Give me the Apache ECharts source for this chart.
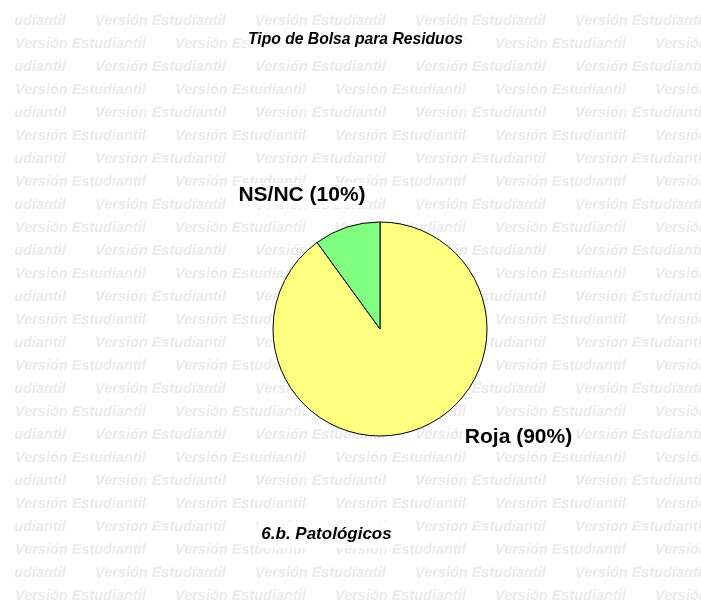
<!DOCTYPE html>
<html>
<head>
<meta charset="utf-8">
<script src="https://cdn.jsdelivr.net/npm/echarts@6/dist/echarts.min.js"></script>
<style>
  html, body { margin: 0; padding: 0; background: #ffffff; }
  #chart { width: 701px; height: 604px; }
</style>
</head>
<body>
<div id="chart"></div>
<script>
// Pie data: bag type used for pathological waste
const categories = ['Roja', 'NS/NC'];
const values = [90, 10];
const sliceColors = ['#ffff80', '#80ff80'];
const titleText = 'Tipo de Bolsa para Residuos';
const subtitleText = '6.b. Patológicos';
const watermarkText = 'Versión Estudiantil';

const FONT = '"Liberation Sans", Arial, sans-serif';

// Background watermark rows (alternate rows shifted by half a step)
const wm = [];
for (let r = 0; r < 26; r++) {
  const y = 20.5 + r * 23;
  const start = (r % 2 === 0) ? -65 : 15;
  for (let x = start; x < 701; x += 160) {
    wm.push({
      type: 'text',
      z: 0,
      silent: true,
      style: {
        text: watermarkText,
        x: x,
        y: y,
        align: 'left',
        verticalAlign: 'middle',
        font: 'italic bold 14.5px ' + FONT,
        fill: '#eaeaea'
      }
    });
  }
}
// White margins that trim the watermark at the top-left edges
wm.push({ type: 'rect', z: 1, silent: true, shape: { x: 0, y: 0, width: 15, height: 604 }, style: { fill: '#fff' } });
wm.push({ type: 'rect', z: 1, silent: true, shape: { x: 0, y: 0, width: 701, height: 12 }, style: { fill: '#fff' } });

const headings = [
  {
    type: 'text', z: 10,
    style: {
      text: titleText, x: 355.5, y: 39.5, align: 'center', verticalAlign: 'middle',
      font: 'italic bold 15.7px ' + FONT, fill: '#000',
      backgroundColor: '#fff', padding: [4, 2, 4, 2]
    }
  },
  {
    type: 'text', z: 10,
    style: {
      text: subtitleText, x: 326.5, y: 534.5, align: 'center', verticalAlign: 'middle',
      font: 'italic bold 17px ' + FONT, fill: '#000',
      backgroundColor: '#fff', padding: [5, 3, 5, 3]
    }
  }
];

// Label anchor points for each slice label
const labelSpots = [
  { x: 518.5, y: 437.5 },
  { x: 302, y: 195.5 }
];

const chart = echarts.init(document.getElementById('chart'), null, { renderer: 'canvas' });
chart.setOption({
  backgroundColor: '#ffffff',
  animation: false,
  graphic: { elements: wm.concat(headings) },
  series: [{
    type: 'pie',
    z: 5,
    center: [380, 329],
    radius: 107,
    startAngle: 90,
    clockwise: true,
    data: categories.map((c, i) => ({
      name: c,
      value: values[i],
      itemStyle: { color: sliceColors[i] }
    })),
    itemStyle: { borderColor: '#000', borderWidth: 1 },
    emphasis: { disabled: true },
    labelLine: { show: false },
    label: {
      show: true,
      position: 'outside',
      formatter: '{b} ({d}%)',
      fontFamily: FONT,
      fontWeight: 'bold',
      fontSize: 21,
      color: '#000',
      backgroundColor: '#fff',
      padding: [2, 2, 2, 2]
    },
    labelLayout: function (p) {
      const s = labelSpots[p.dataIndex];
      return { x: s.x, y: s.y, align: 'center', verticalAlign: 'middle' };
    }
  }]
});
</script>
</body>
</html>
